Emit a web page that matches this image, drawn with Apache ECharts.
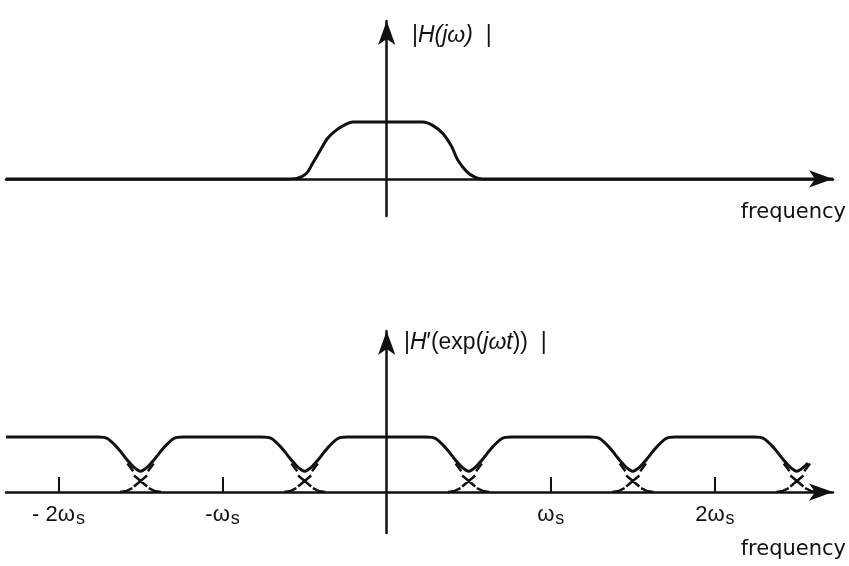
<!DOCTYPE html>
<html><head><meta charset="utf-8">
<script src="https://cdn.jsdelivr.net/npm/echarts@6/dist/echarts.min.js"></script>
<style>html,body{margin:0;padding:0;background:#fff}#c{width:849px;height:566px}</style>
</head><body><div id="c"></div>
<script>
// ---- data: x in units of the sampling frequency ωs, y relative to the passband gain ----
const xRange = [-2.32, 2.72];
const topYRange = [-0.65, 2.77];
const bottomYRange = [-0.745, 2.93];

// |H(jω)| (top panel)
const topX = [-2.32, -0.634, -0.549, -0.488, -0.451, -0.409, -0.360, -0.305, -0.244, -0.207, 0.22, 0.28, 0.341, 0.396, 0.433, 0.488, 0.537, 0.585, 2.72];
const topY = [0, 0, 0.01, 0.10, 0.275, 0.48, 0.714, 0.86, 0.965, 1.0, 1.0, 0.94, 0.80, 0.567, 0.333, 0.128, 0.03, 0, 0];

// |H'(exp(jωT))| (bottom panel): passband level, dips between the periodic copies
const passband = 1.0;
const dipCenters = [-1.5, -0.5, 0.5, 1.5, 2.5];
const dipDx = [-0.26, -0.20, -0.14, -0.08, -0.04, 0, 0.04, 0.08, 0.14, 0.20, 0.26];
const dipH  = [1.0, 0.97, 0.80, 0.58, 0.45, 0.38, 0.45, 0.58, 0.80, 0.97, 1.0];
const sumEnd = [2.567, 0.53];

// tails of the individual copies crossing in each dip (descending copy; rising copy mirrors it)
const tailDx = [-0.08, -0.045, null, -0.04, 0.04, null, 0.05, 0.085, 0.125];
const tailH  = [0.52, 0.38, null, 0.30, 0.10, null, 0.07, 0.02, 0];

const tickValues = [-2, -1, 1, 2];
const tickLabels = ['- 2ω', '-ω', 'ω', '2ω'];

// ---- build series data ----
const topData = topX.map((x, i) => [x, topY[i]]);

const sumData = [[xRange[0], passband]];
dipCenters.forEach(c => {
  dipDx.forEach((d, j) => {
    const x = c + d;
    if (x < sumEnd[0]) sumData.push([x, dipH[j]]);
  });
});
sumData.push(sumEnd);

const tailData = [];
dipCenters.forEach(c => {
  [1, -1].forEach(s => {
    tailDx.forEach((d, j) => {
      tailData.push(d === null ? [null, null] : [c + s * d, tailH[j]]);
    });
    tailData.push([null, null]);
  });
});

const INK = '#111';
const axisLine = (w) => ({
  onZero: true,
  symbol: ['none', 'arrow'],
  symbolSize: w,
  lineStyle: { color: INK, width: 2.5 }
});
const noDeco = { axisTick: { show: false }, axisLabel: { show: false }, splitLine: { show: false } };

const chart = echarts.init(document.getElementById('c'), null, { renderer: 'canvas' });
chart.setOption({
  animation: false,
  backgroundColor: '#fff',
  grid: [
    { left: 6, right: 16, top: 21, height: 195 },
    { left: 6, right: 16, top: 331, height: 202 }
  ],
  xAxis: [
    Object.assign({ gridIndex: 0, type: 'value', min: xRange[0], max: xRange[1], axisLine: axisLine([13, 24]) }, noDeco),
    {
      gridIndex: 1, type: 'value', min: xRange[0], max: xRange[1],
      axisLine: axisLine([13, 24]),
      splitLine: { show: false },
      axisTick: { show: true, inside: true, length: 15, customValues: tickValues, lineStyle: { color: INK, width: 2 } },
      axisLabel: {
        show: true, margin: -29, customValues: tickValues,
        formatter: v => '{a|' + tickLabels[tickValues.indexOf(v)] + '}{s|s}',
        rich: {
          a: { fontFamily: 'Liberation Sans', fontSize: 22, color: INK, lineHeight: 22 },
          s: { fontFamily: 'Liberation Sans', fontSize: 18, color: INK, lineHeight: 18, padding: [9, 0, 0, 1] }
        }
      }
    }
  ],
  yAxis: [
    Object.assign({ gridIndex: 0, type: 'value', min: topYRange[0], max: topYRange[1], axisLine: axisLine([13, 24]) }, noDeco),
    Object.assign({ gridIndex: 1, type: 'value', min: bottomYRange[0], max: bottomYRange[1], axisLine: axisLine([13, 24]) }, noDeco)
  ],
  series: [
    { type: 'line', xAxisIndex: 0, yAxisIndex: 0, data: topData, smooth: 0.3, showSymbol: false,
      lineStyle: { color: INK, width: 3 } },
    { type: 'line', xAxisIndex: 1, yAxisIndex: 1, data: sumData, smooth: 0.3, showSymbol: false,
      lineStyle: { color: INK, width: 3 } },
    { type: 'line', xAxisIndex: 1, yAxisIndex: 1, data: tailData, smooth: false, showSymbol: false, connectNulls: false,
      lineStyle: { color: INK, width: 2.5 } }
  ],
  graphic: [
    { type: 'text', left: 412, top: 24, style: {
        text: '{u||}{i|H(jω)}{u|  |}',
        rich: {
          u: { fontFamily: 'Liberation Sans', fontSize: 23, fill: INK },
          i: { fontFamily: 'Liberation Sans', fontStyle: 'italic', fontSize: 23, fill: INK }
        } } },
    { type: 'text', left: 404, top: 331, style: {
        text: '{u||}{i|H}{u|′(exp(}{i|jωt}{u|))  |}',
        rich: {
          u: { fontFamily: 'Liberation Sans', fontSize: 23, fill: INK },
          i: { fontFamily: 'Liberation Sans', fontStyle: 'italic', fontSize: 23, fill: INK }
        } } },
    { type: 'text', right: 3, top: 202, style: { text: 'frequency', font: '21px "DejaVu Sans"', fill: INK } },
    { type: 'text', right: 3, top: 539, style: { text: 'frequency', font: '21px "DejaVu Sans"', fill: INK } }
  ]
});
</script>
</body></html>
